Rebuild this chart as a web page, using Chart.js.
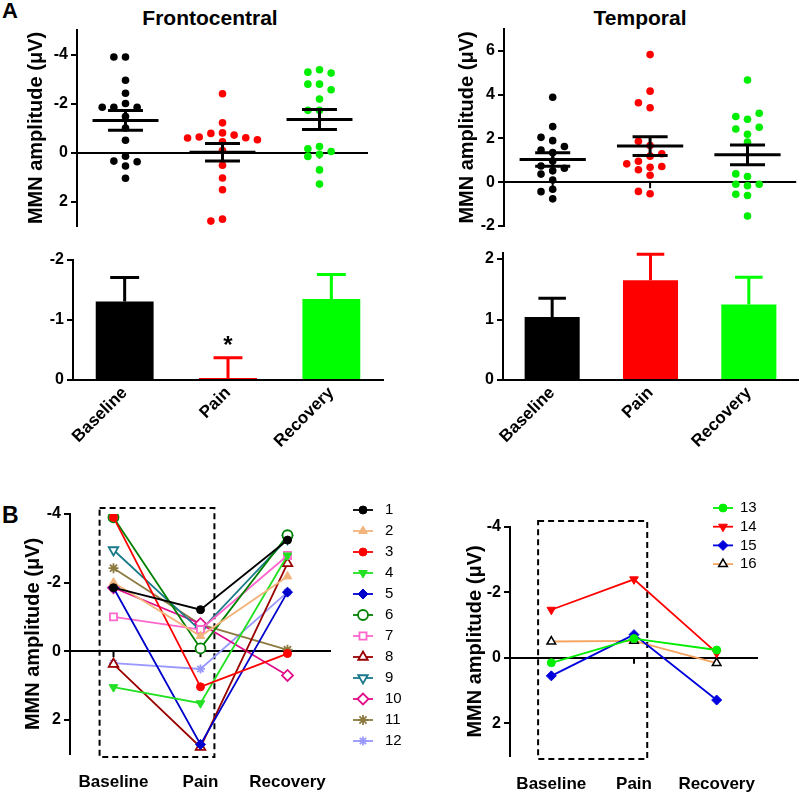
<!DOCTYPE html>
<html>
<head>
<meta charset="utf-8">
<script src="https://cdn.jsdelivr.net/npm/chart.js@4.4.1/dist/chart.umd.min.js"></script>
<style>
  body { margin: 0; background: #fff; }
  #fig { position: relative; width: 800px; height: 794px; overflow: hidden; font-family: "Liberation Sans", Arial, sans-serif; }
  #fig canvas { position: absolute; }
  .lbl { position: absolute; font-weight: bold; color: #000; white-space: nowrap; line-height: 1; }
</style>
</head>
<body>
<div id="fig">
  <div class="lbl" style="left:2px;top:0px;font-size:22px">A</div>
  <div class="lbl" style="left:2px;top:504px;font-size:23px">B</div>
  <div class="lbl" style="left:210px;top:7px;font-size:21px;transform:translateX(-50%)">Frontocentral</div>
  <div class="lbl" style="left:640px;top:7px;font-size:21px;transform:translateX(-50%)">Temporal</div>
  <canvas id="fcDots"></canvas>
  <canvas id="tDots"></canvas>
  <canvas id="fcBars"></canvas>
  <canvas id="tBars"></canvas>
  <canvas id="subjA"></canvas>
  <canvas id="subjB"></canvas>
</div>
<script>
const conditions = ['Baseline', 'Pain', 'Recovery'];
const subjects = ['1', '2', '3', '4', '5', '6', '7', '8', '9', '10', '11', '12', '13', '14', '15', '16'];

// frontocentral MMN amplitude per subject (uV)
const fcBaseline = [-1.85, -2.0, -3.9, 1.05, -1.85, -3.9, -1.0, 0.38, -2.95, -1.85, -2.42, 0.35, 0.15, -1.47, 0.55, -0.5];
const fcPain = [-1.21, -0.44, 1.04, 1.52, 2.72, -0.08, -0.63, 2.8, -0.6, -0.8, -0.78, 0.52, -0.59, -2.4, -0.71, -0.52];
const fcRecovery = [-3.24, -2.18, 0.07, -2.79, -1.72, -3.38, -2.79, -2.56, -3.28, 0.71, -0.04, -1.72, -0.24, -0.15, 1.29, 0.16];

// temporal MMN amplitude (uV)
const tBaseline = [3.88, 2.54, 2.05, 1.9, 1.63, 1.47, 1.35, 0.97, 0.74, 0.64, 0.52, 0.37, 0.1, -0.32, -0.43, -0.76];
const tPain = [5.83, 4.16, 3.63, 3.4, 1.87, 1.68, 1.3, 1.19, 0.96, 0.72, 0.57, 0.68, 0.84, 0.32, -0.53, -0.42];
const tRecovery = [4.67, 3.15, 2.88, 3.0, 2.51, 2.43, 2.19, 1.83, 0.38, 0.26, -0.09, -0.09, -0.16, -0.55, -0.61, -1.54];

// group mean and SEM
const fcMean = [-1.31, -0.01, -1.35];
const fcSem = [0.40, 0.36, 0.41];
const tMean = [1.04, 1.65, 1.25];
const tSem = [0.31, 0.43, 0.45];

const fcTicks = [-4, -2, 0, 2];
const tTicks = [-2, 0, 2, 4, 6];
const fcBarTicks = [-2, -1, 0];
const tBarTicks = [0, 1, 2];
const subjTicks = [-4, -2, 0, 2];

const groupColors = ['#000000', '#ff0000', '#00ee00'];
const barColors = ['#000000', '#ff0000', '#00ff00'];

// marker / line style for each subject
const subjectStyles = [
  { line: '#000000', fill: '#000000', edge: '#000000', shape: 'circle', r: 4, bw: 1 },
  { line: '#f2b47c', fill: '#f2b47c', edge: '#f2b47c', shape: 'triangle', r: 5, bw: 1 },
  { line: '#ff0000', fill: '#ff0000', edge: '#ff0000', shape: 'circle', r: 4, bw: 1 },
  { line: '#22e022', fill: '#22e022', edge: '#22e022', shape: 'triangle', rot: 180, r: 5, bw: 1 },
  { line: '#0000cc', fill: '#0000cc', edge: '#0000cc', shape: 'rectRot', r: 5, bw: 1 },
  { line: '#008000', fill: '#ffffff', edge: '#008000', shape: 'circle', r: 5, bw: 1.8 },
  { line: '#ff66cc', fill: '#ffffff', edge: '#ff66cc', shape: 'rect', r: 5, bw: 1.8 },
  { line: '#990000', fill: '#ffffff', edge: '#990000', shape: 'triangle', r: 5.5, bw: 1.8 },
  { line: '#1a7a8a', fill: '#ffffff', edge: '#1a7a8a', shape: 'triangle', rot: 180, r: 5.5, bw: 1.8 },
  { line: '#e0108a', fill: '#ffffff', edge: '#e0108a', shape: 'rectRot', r: 5.5, bw: 1.8 },
  { line: '#8c7a40', fill: '#8c7a40', edge: '#8c7a40', shape: 'star', r: 5, bw: 1.8 },
  { line: '#9999ff', fill: '#9999ff', edge: '#9999ff', shape: 'star', r: 4.5, bw: 1.8 },
  { line: '#00ee00', fill: '#00ee00', edge: '#00ee00', shape: 'circle', r: 4, bw: 1 },
  { line: '#ff0000', fill: '#ff0000', edge: '#ff0000', shape: 'triangle', rot: 180, r: 5, bw: 1 },
  { line: '#0000dd', fill: '#0000dd', edge: '#0000dd', shape: 'rectRot', r: 5, bw: 1 },
  { line: '#f4a460', fill: '#ffffff', edge: '#000000', shape: 'triangle', r: 5, bw: 1.5 }
];

const FONT = '"Liberation Sans", Arial, sans-serif';
Chart.defaults.font.family = FONT;
Chart.defaults.color = '#000';
Chart.defaults.animation = false;

function place(id, left, top, width, height) {
  const c = document.getElementById(id);
  c.width = width;
  c.height = height;
  c.style.left = left + 'px';
  c.style.top = top + 'px';
  return c;
}

function yAxis(min, max, reverse, ticks, width, title) {
  return {
    type: 'linear',
    min: min,
    max: max,
    reverse: reverse,
    afterFit: s => { s.width = width; },
    afterBuildTicks: s => { s.ticks = ticks.map(v => ({ value: v })); },
    border: { display: true, color: '#000', width: 2 },
    grid: {
      color: c => (c.tick && c.tick.value === 0 ? '#000' : 'rgba(0,0,0,0)'),
      lineWidth: 2,
      tickLength: 6,
      tickColor: '#000',
      tickWidth: 2
    },
    ticks: { color: '#000', padding: 3, font: { size: 16, weight: 'bold' } },
    title: title
      ? { display: true, text: title, color: '#000', padding: 0, font: { size: 20, weight: 'bold' } }
      : { display: false }
  };
}

// spread points sideways where they would overlap (GraphPad-style scatter)
const SPREAD = 0.12;
function swarm(values, cat, thr) {
  const placed = [];
  const pts = [];
  const order = values.map((v, i) => i).sort((a, b) => values[a] - values[b]);
  order.forEach(i => {
    const v = values[i];
    for (const k of [0, -1, 1, -2, 2, -3, 3]) {
      if (!placed.some(p => p.k === k && Math.abs(p.v - v) < thr)) {
        placed.push({ k, v });
        pts.push({ x: cat + k * SPREAD, y: v });
        break;
      }
    }
  });
  return pts;
}

const zeroTicks = {
  id: 'zeroTicks',
  beforeDatasetsDraw(chart) {
    const { ctx, scales: { x, y } } = chart;
    const y0 = y.getPixelForValue(0);
    ctx.save();
    ctx.strokeStyle = '#000';
    ctx.lineWidth = 2;
    conditions.forEach((c, i) => {
      const px = x.getPixelForValue(i);
      ctx.beginPath();
      ctx.moveTo(px, y0);
      ctx.lineTo(px, y0 + 6);
      ctx.stroke();
    });
    ctx.restore();
  }
};

const meanSem = (mean, sem) => ({
  id: 'meanSem',
  afterDatasetsDraw(chart) {
    const { ctx, scales: { x, y } } = chart;
    const unit = x.getPixelForValue(1) - x.getPixelForValue(0);
    ctx.save();
    ctx.strokeStyle = '#000';
    ctx.lineWidth = 3;
    mean.forEach((m, i) => {
      const cx = x.getPixelForValue(i);
      const ym = y.getPixelForValue(m);
      const ylo = y.getPixelForValue(m - sem[i]);
      const yhi = y.getPixelForValue(m + sem[i]);
      ctx.beginPath();
      ctx.moveTo(cx - 0.34 * unit, ym); ctx.lineTo(cx + 0.34 * unit, ym);
      ctx.moveTo(cx - 0.18 * unit, ylo); ctx.lineTo(cx + 0.18 * unit, ylo);
      ctx.moveTo(cx - 0.18 * unit, yhi); ctx.lineTo(cx + 0.18 * unit, yhi);
      ctx.moveTo(cx, ylo); ctx.lineTo(cx, yhi);
      ctx.stroke();
    });
    ctx.restore();
  }
});

const barErrors = (mean, sem, starAt) => ({
  id: 'barErrors',
  afterDatasetsDraw(chart) {
    const { ctx, scales: { y } } = chart;
    const meta = chart.getDatasetMeta(0);
    const colors = chart.data.datasets[0].backgroundColor;
    ctx.save();
    ctx.lineWidth = 3;
    meta.data.forEach((bar, i) => {
      const m = mean[i];
      const tip = y.getPixelForValue(m + Math.sign(m) * sem[i]);
      const half = bar.width * 0.25;
      ctx.strokeStyle = colors[i];
      ctx.beginPath();
      ctx.moveTo(bar.x, bar.y); ctx.lineTo(bar.x, tip);
      ctx.moveTo(bar.x - half, tip); ctx.lineTo(bar.x + half, tip);
      ctx.stroke();
      if (i === starAt) {
        ctx.fillStyle = '#000';
        ctx.font = 'bold 24px ' + FONT;
        ctx.textAlign = 'center';
        ctx.textBaseline = 'alphabetic';
        ctx.fillText('*', bar.x, tip - 5);
      }
    });
    ctx.restore();
  }
});

const dashedBox = {
  id: 'dashedBox',
  beforeDatasetsDraw(chart) {
    const { ctx, scales: { x, y } } = chart;
    const unit = x.getPixelForValue(1) - x.getPixelForValue(0);
    const left = x.getPixelForValue(0) - 0.16 * unit;
    const right = x.getPixelForValue(1) + 0.16 * unit;
    ctx.save();
    ctx.strokeStyle = '#000';
    ctx.lineWidth = 2;
    ctx.setLineDash([6, 4]);
    ctx.strokeRect(left, y.top - 6, right - left, y.bottom - y.top + 9);
    ctx.restore();
  }
};

const sideLegend = (x1, x2, tx, y0, dy) => ({
  id: 'sideLegend',
  afterDraw(chart) {
    const { ctx } = chart;
    ctx.save();
    chart.data.datasets.forEach((ds, i) => {
      const yy = y0 + i * dy;
      ctx.setLineDash([]);
      ctx.strokeStyle = ds.borderColor;
      ctx.lineWidth = ds.borderWidth;
      ctx.beginPath();
      ctx.moveTo(x1, yy);
      ctx.lineTo(x2, yy);
      ctx.stroke();
      ctx.fillStyle = ds.pointBackgroundColor;
      ctx.strokeStyle = ds.pointBorderColor;
      ctx.lineWidth = ds.pointBorderWidth;
      Chart.helpers.drawPoint(ctx, {
        pointStyle: ds.pointStyle,
        radius: ds.pointRadius,
        rotation: ds.pointRotation || 0,
        borderWidth: ds.pointBorderWidth
      }, (x1 + x2) / 2, yy);
      ctx.fillStyle = '#000';
      ctx.font = '15px ' + FONT;
      ctx.textAlign = 'left';
      ctx.textBaseline = 'middle';
      ctx.fillText(ds.label, tx, yy);
    });
    ctx.restore();
  }
});

function dotChart(canvas, series, mean, sem, yCfg, pad, pxPerUnit) {
  const thr = 7.5 / pxPerUnit;
  return new Chart(canvas, {
    type: 'scatter',
    data: {
      datasets: series.map((vals, i) => ({
        data: swarm(vals, i, thr),
        backgroundColor: groupColors[i],
        borderWidth: 0,
        pointRadius: 3.8,
        pointHoverRadius: 3.8
      }))
    },
    options: {
      responsive: false,
      layout: { padding: pad },
      plugins: { legend: { display: false }, tooltip: { enabled: false } },
      scales: {
        x: { type: 'linear', min: -0.5, max: 2.5, display: false },
        y: yCfg
      }
    },
    plugins: [zeroTicks, meanSem(mean, sem)]
  });
}

function barChart(canvas, mean, sem, starAt, yCfg, pad) {
  return new Chart(canvas, {
    type: 'bar',
    data: {
      labels: conditions,
      datasets: [{
        data: mean,
        backgroundColor: barColors,
        borderWidth: 0,
        minBarLength: 2,
        categoryPercentage: 1,
        barPercentage: 0.56
      }]
    },
    options: {
      responsive: false,
      layout: { padding: pad },
      plugins: { legend: { display: false }, tooltip: { enabled: false } },
      scales: {
        x: {
          type: 'category',
          afterFit: s => { s.height = 90; },
          border: { display: true, color: '#000', width: 2 },
          grid: { display: false, drawTicks: false },
          ticks: { color: '#000', minRotation: 45, maxRotation: 45, padding: 3, font: { size: 17, weight: 'bold' } }
        },
        y: yCfg
      }
    },
    plugins: [barErrors(mean, sem, starAt)]
  });
}

function subjectChart(canvas, from, to, pad, xHeight, legendArgs) {
  const datasets = [];
  for (let i = from; i < to; i++) {
    const st = subjectStyles[i];
    datasets.push({
      label: subjects[i],
      data: [fcBaseline[i], fcPain[i], fcRecovery[i]],
      borderColor: st.line,
      borderWidth: 1.8,
      pointStyle: st.shape,
      pointRotation: st.rot || 0,
      pointRadius: st.r,
      pointHoverRadius: st.r,
      pointBackgroundColor: st.fill,
      pointBorderColor: st.edge,
      pointBorderWidth: st.bw,
      tension: 0
    });
  }
  return new Chart(canvas, {
    type: 'line',
    data: { labels: conditions, datasets },
    options: {
      responsive: false,
      layout: { padding: pad },
      plugins: { legend: { display: false }, tooltip: { enabled: false } },
      scales: {
        x: {
          type: 'category',
          offset: true,
          afterFit: s => { s.height = xHeight; },
          border: { display: false },
          grid: { display: false, drawTicks: false },
          ticks: { color: '#000', padding: 18, font: { size: 17, weight: 'bold' } }
        },
        y: yAxis(-4, 3, true, subjTicks, pad.yWidth, 'MMN amplitude (\u03bcV)')
      }
    },
    plugins: [zeroTicks, dashedBox, sideLegend.apply(null, legendArgs)]
  });
}

const TITLE = 'MMN amplitude (\u03bcV)';

dotChart(place('fcDots', 0, 0, 400, 245),
  [fcBaseline, fcPain, fcRecovery], fcMean, fcSem,
  yAxis(-5, 3, true, fcTicks, 53, TITLE),
  { left: 24, top: 30, right: 32, bottom: 19 }, 24.5);

dotChart(place('tDots', 400, 0, 400, 245),
  [tBaseline, tPain, tRecovery], tMean, tSem,
  yAxis(-2, 7, false, tTicks, 49, TITLE),
  { left: 55, top: 29, right: 2, bottom: 19 }, 21.9);

barChart(place('fcBars', 0, 235, 400, 235), fcMean, fcSem, 1,
  yAxis(-2, 0, true, fcBarTicks, 53, null),
  { left: 20, top: 25, right: 17, bottom: 0 });

barChart(place('tBars', 400, 235, 400, 235), tMean, tSem, -1,
  yAxis(0, 2.1, false, tBarTicks, 63, null),
  { left: 40, top: 18, right: 2, bottom: 0 });

subjectChart(place('subjA', 0, 470, 420, 324), 0, 12,
  { left: 21, top: 44, right: 89, bottom: 0, yWidth: 49 }, 40,
  [353, 373, 385, 40, 21]);

subjectChart(place('subjB', 420, 470, 380, 324), 12, 16,
  { left: 43, top: 57, right: 42, bottom: 0, yWidth: 47 }, 38,
  [293, 313, 320, 38, 18.7]);
</script>
</body>
</html>
